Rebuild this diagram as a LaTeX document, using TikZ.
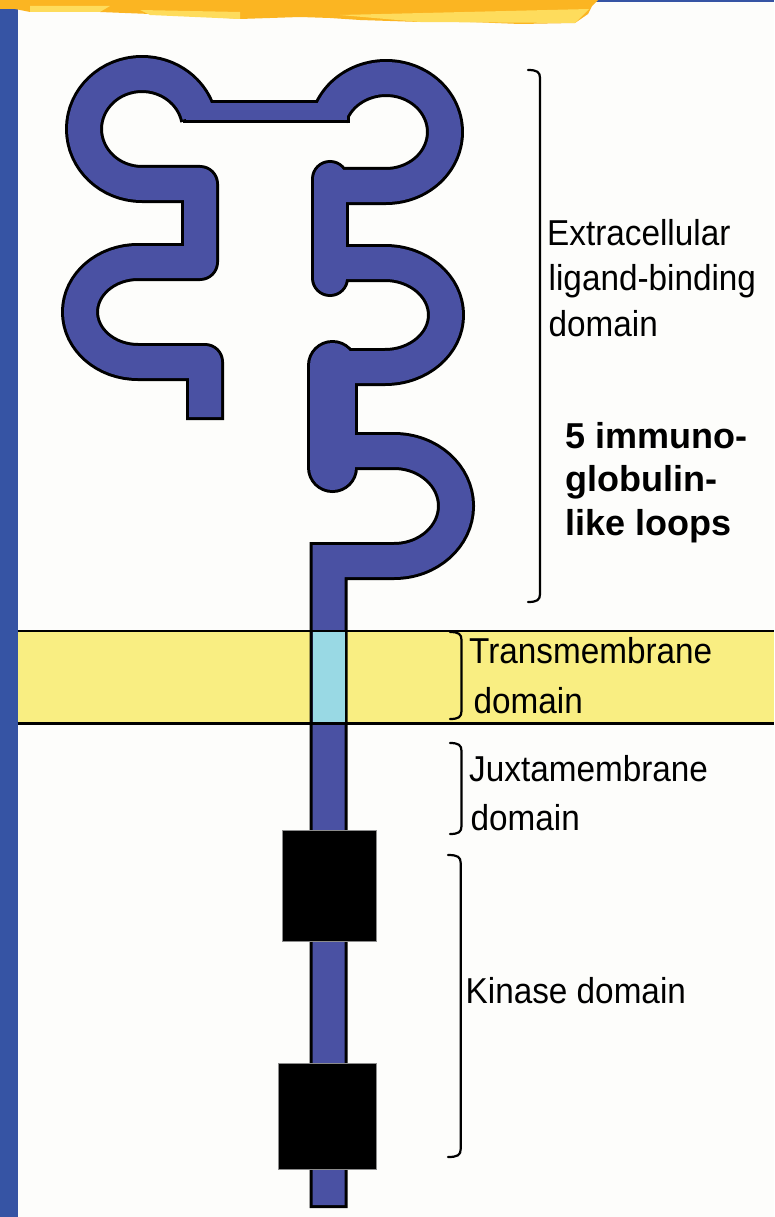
\documentclass[tikz,border=0pt]{standalone}
\usepackage{fontspec}
\newfontfamily\labelfont[FakeStretch=0.925]{Liberation Sans}
\newfontfamily\notefont{Liberation Sans}

\definecolor{paper}{RGB}{253,253,251}
\definecolor{protein}{RGB}{74,81,163}
\definecolor{membrane}{RGB}{249,238,130}
\definecolor{tmhelix}{RGB}{153,217,228}
\definecolor{slideblue}{RGB}{54,84,164}
\definecolor{brush}{RGB}{251,181,34}
\definecolor{brushlight}{RGB}{254,220,92}

\tikzset{
  lbl/.style={font=\labelfont\fontsize{36}{43}\selectfont, inner sep=0pt, anchor=base west},
  boldlbl/.style={font=\notefont\bfseries\fontsize{36}{43}\selectfont, inner sep=0pt, anchor=base west},
  bracketline/.style={line width=2.2pt, line cap=round},
  kinasebox/.style={fill=black, draw=black!45, line width=1pt}
}

% One pass of the receptor chain: colour, tube width, linker width,
% width of the broad stalk, end extension (to close the outline at free ends)
\newcommand\proteinlayer[5]{%
  \begin{scope}[draw=#1, line width=#2, line join=round]
    % left pair of Ig loops with the free N-terminal end
    \draw (205,{417+#5}) -- (205,362) -- (138,362)
      arc[start angle=90, end angle=270, x radius=58, y radius=50]
      -- (200,262) -- (200,184) -- (142,184)
      arc[start angle=90, end angle={345+#5}, x radius=58, y radius=55];
    % linker across the top
    \draw[line width=#3] ({186-#5},111.5) -- ({347+#5},111.5);
    % right-hand loops
    \draw (386,132) ++({200-#5}:59 and 54)
      arc[start angle={200-#5}, end angle=450, x radius=59, y radius=54] -- (330,186);
    \draw[line cap=round] (330,179) -- (330,278);
    \draw (330,263) -- (385,263)
      arc[start angle=270, end angle=450, x radius=61, y radius=52] -- (332,367);
    \draw[line width=#4, line cap=round] (332.5,365.5) -- (332.5,467.5);
    % last loop and the stalk down through the membrane
    \draw[line join=miter] (332,451) -- (394,451)
      arc[start angle=270, end angle=450, x radius=62, y radius=55]
      -- (328.5,561) -- (328.5,{1205+#5});
  \end{scope}}

% Square bracket with small curled ends: x, top, bottom, hook end x
\newcommand\domainbracket[4]{%
  \draw[bracketline] (#4,#2) .. controls ({#1-3},#2) and (#1,{#2+2}) .. (#1,{#2+8})
    -- (#1,{#3-8}) .. controls (#1,{#3-2}) and ({#1-3},#3) .. (#4,#3);}

\begin{document}
\begin{tikzpicture}[x=1pt, y=-1pt]
  \useasboundingbox (0,0) rectangle (774,1217);
  \fill[paper] (0,0) rectangle (774,1217);

  % slide decoration
  \fill[slideblue] (0,9) rectangle (17.5,1217);
  \fill[slideblue] (596,0) rectangle (774,1.6);
  \fill[brush] (0,0) -- (598,0) -- (592,6) -- (588,14) -- (575,23) -- (520,24)
    -- (470,22) -- (420,22) -- (360,20) -- (330,18) -- (300,17) -- (240,19)
    -- (200,16) -- (150,14) -- (100,12) -- (30,12) -- (15,9) -- (0,9) -- cycle;
  \fill[brushlight] (30,6) -- (110,6) -- (100,12) -- (30,12) -- cycle;
  \fill[brushlight] (140,10) -- (240,12) -- (240,19) -- (150,15) -- cycle;
  \fill[brushlight] (340,15) -- (589,9) -- (575,23) -- (420,22) -- cycle;

  % membrane
  \fill[membrane] (17.5,631) rectangle (774,723);

  % receptor: dark outline first, blue body on top
  \proteinlayer{black}{38pt}{23pt}{51pt}{3}
  \proteinlayer{protein}{32pt}{17pt}{45pt}{0}

  % transmembrane helix
  \fill[tmhelix] (312.5,631) rectangle (344.5,723);
  \draw[line width=2.5pt] (17.5,631) -- (774,631);
  \draw[line width=3.5pt] (17.5,723.5) -- (774,723.5);

  % kinase domain halves
  \path[kinasebox] (282,830) rectangle (376,941);
  \path[kinasebox] (278,1063) rectangle (376,1169);

  % domain brackets
  \domainbracket{540}{70}{602}{528}
  \domainbracket{461.5}{632}{719}{450}
  \domainbracket{461.5}{743}{834}{450}
  \domainbracket{460.7}{855}{1157}{448}

  % labels
  \node[lbl] (ext1) at (547,245) {Extracellular};
  \node[lbl] (ext2) at (548.5,290) {ligand-binding};
  \node[lbl] (ext3) at (548.5,336.7) {domain};
  \node[boldlbl] (ig1) at (565.5,448.3) {5 immuno-};
  \node[boldlbl] (ig2) at (565.5,491.7) {globulin-};
  \node[boldlbl] (ig3) at (565.5,535) {like loops};
  \node[lbl] (tm1) at (469,663) {Transmembrane};
  \node[lbl] (tm2) at (473.5,713) {domain};
  \node[lbl] (jm1) at (469,781) {Juxtamembrane};
  \node[lbl] (jm2) at (470.5,830) {domain};
  \node[lbl] (kd) at (465.5,1003) {Kinase domain};
\end{tikzpicture}
\end{document}
